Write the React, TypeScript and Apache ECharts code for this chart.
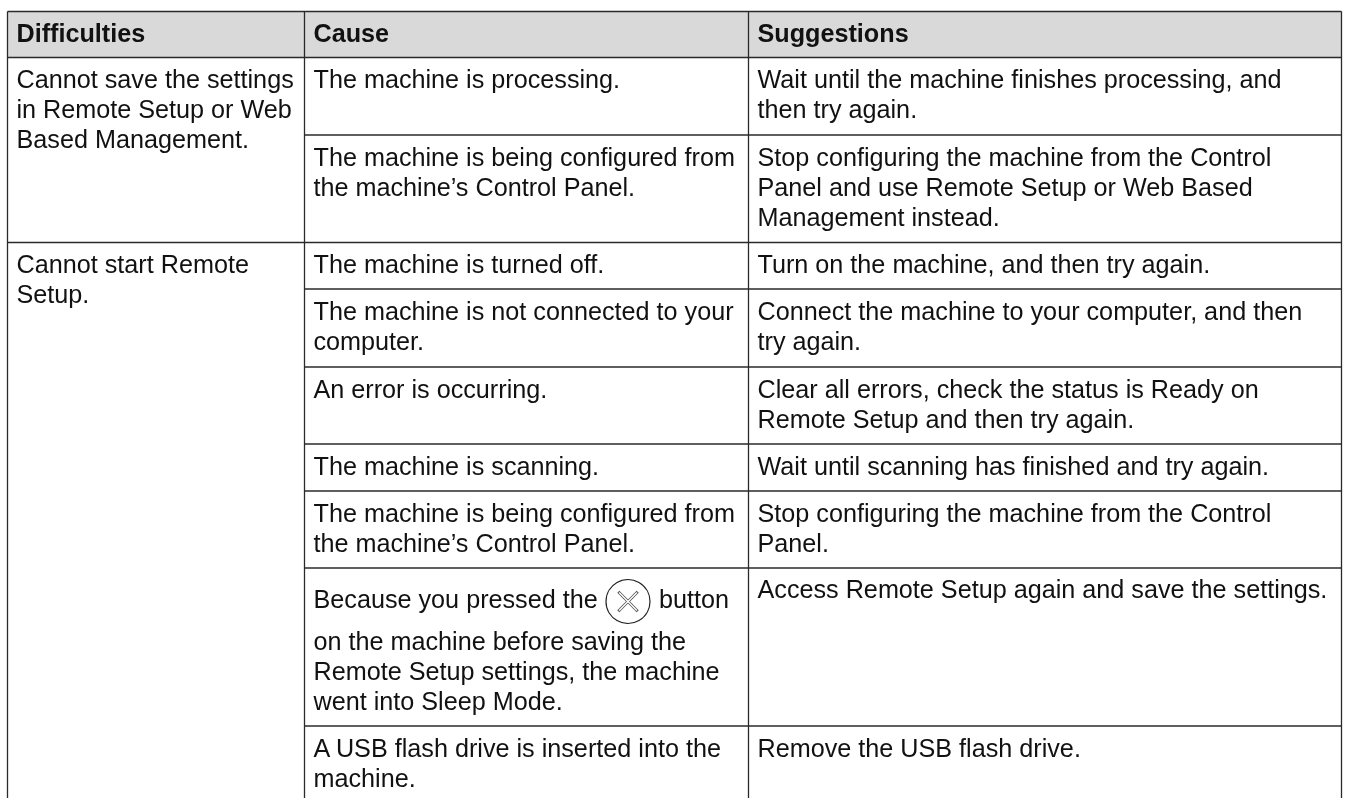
import React, { useEffect, useRef } from "react";
import * as echarts from "echarts";

const headers = ["Difficulties", "Cause", "Suggestions"];
const difficulties = [
  ["Cannot save the settings", "in Remote Setup or Web", "Based Management."],
  ["Cannot start Remote", "Setup."],
];
const causes = [
  ["The machine is processing."],
  ["The machine is being configured from", "the machine\u2019s Control Panel."],
  ["The machine is turned off."],
  ["The machine is not connected to your", "computer."],
  ["An error is occurring."],
  ["The machine is scanning."],
  ["The machine is being configured from", "the machine\u2019s Control Panel."],
  ["Because you pressed the"],
  ["on the machine before saving the", "Remote Setup settings, the machine", "went into Sleep Mode."],
  ["A USB flash drive is inserted into the", "machine."],
];
const suggestions = [
  ["Wait until the machine finishes processing, and", "then try again."],
  ["Stop configuring the machine from the Control", "Panel and use Remote Setup or Web Based", "Management instead."],
  ["Turn on the machine, and then try again."],
  ["Connect the machine to your computer, and then", "try again."],
  ["Clear all errors, check the status is Ready on", "Remote Setup and then try again."],
  ["Wait until scanning has finished and try again."],
  ["Stop configuring the machine from the Control", "Panel."],
  ["Access Remote Setup again and save the settings."],
  ["Remove the USB flash drive."],
];
const buttonWord = "button";

// layout
const colLines = [7.5, 304.5, 748.5, 1341.5];
const textX = [16.5, 313.5, 757.5];
const headTop = 11.5;
const headBottom = 57.5;
const fullRules = [242.5];
const partRules = [135, 289, 367, 444, 491, 568, 726];
const difficultyBase = [88, 272.7];
const causeBase = [88, 166, 272.7, 320, 398, 475, 521.7, 608, 650, 757];
const suggestBase = [88, 166, 272.7, 320, 398, 475, 521.7, 598, 757];
const icon = { cx: 628, cy: 601.5, r: 22, arm: 9.7 };
const buttonX = 659;
const buttonBase = 608;
const lineStep = 30;

const FONT = '"Liberation Sans", Arial, sans-serif';
const SIZE = 25.2;
const TEXT = "#111111";
const LINE = "#2a2a2a";
const MID = 0.3465 * SIZE;

function text(x: number, base: number, t: string, weight = "normal") {
  return {
    type: "text",
    x,
    y: base - MID,
    style: { text: t, fontFamily: FONT, fontSize: SIZE, fontWeight: weight, fill: TEXT, verticalAlign: "middle" },
  };
}
function line(x1: number, y1: number, x2: number, y2: number, w = 1.3, c = LINE) {
  return { type: "line", shape: { x1, y1, x2, y2 }, style: { stroke: c, lineWidth: w } };
}

export default function App() {
  const ref = useRef<HTMLDivElement>(null);
  useEffect(() => {
    document.body.style.margin = "0";
    const chart = echarts.init(ref.current!, null, { renderer: "svg" });
    const els: any[] = [];
    const L = colLines[0];
    const M = colLines[1];
    const R = colLines[3];
    els.push({ type: "rect", shape: { x: L, y: headTop, width: R - L, height: headBottom - headTop }, style: { fill: "#d9d9d9" } });
    colLines.forEach((x) => els.push(line(x, headTop, x, 798)));
    [headTop, headBottom, ...fullRules].forEach((y) => els.push(line(L, y, R, y)));
    partRules.forEach((y) => els.push(line(M, y, R, y)));
    headers.forEach((h, i) => els.push(text(textX[i], 41.7, h, "bold")));
    const column = (rows: string[][], bases: number[], x: number) =>
      rows.forEach((row, i) => row.forEach((t, j) => els.push(text(x, bases[i] + j * lineStep, t))));
    column(difficulties, difficultyBase, textX[0]);
    column(causes, causeBase, textX[1]);
    column(suggestions, suggestBase, textX[2]);
    els.push({ type: "circle", shape: { cx: icon.cx, cy: icon.cy, r: icon.r }, style: { fill: "#fff", stroke: "#222", lineWidth: 1.2 } });
    const a = icon.arm;
    const arms = [[-a, -a, a, a], [-a, a, a, -a]];
    arms.forEach(([x1, y1, x2, y2]) => {
      els.push(line(icon.cx + x1, icon.cy + y1, icon.cx + x2, icon.cy + y2, 3, "#555"));
    });
    arms.forEach(([x1, y1, x2, y2]) => {
      els.push(line(icon.cx + x1 * 0.92, icon.cy + y1 * 0.92, icon.cx + x2 * 0.92, icon.cy + y2 * 0.92, 1.4, "#fff"));
    });
    els.push(text(buttonX, buttonBase, buttonWord));
    chart.setOption({ animation: false, graphic: { elements: els } });
    return () => chart.dispose();
  }, []);
  return <div ref={ref} style={{ position: "fixed", left: 0, top: 0, width: 1347, height: 798 }} />;
}
